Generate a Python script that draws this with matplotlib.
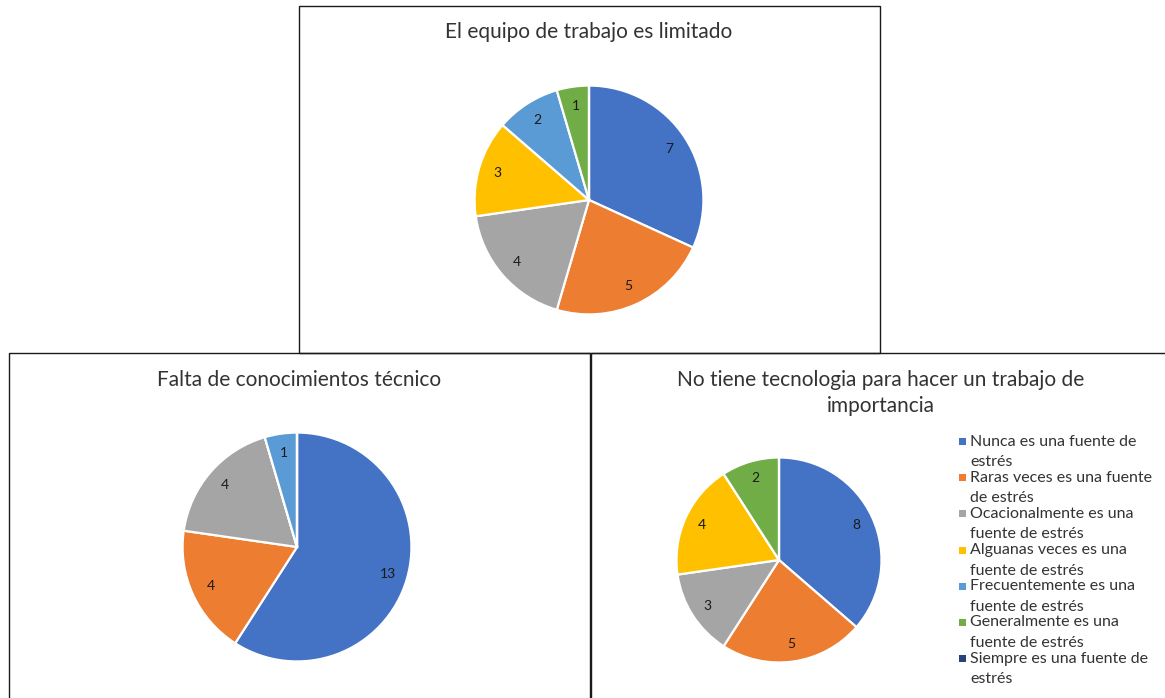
import matplotlib
matplotlib.use("Agg")
import matplotlib.pyplot as plt
from matplotlib.patches import Rectangle

plt.rcParams['font.family'] = ['Lato', 'DejaVu Sans']

categories = [
    "Nunca es una fuente de estrés",
    "Raras veces es una fuente de estrés",
    "Ocacionalmente es una fuente de estrés",
    "Alguanas veces es una fuente de estrés",
    "Frecuentemente es una fuente de estrés",
    "Generalmente es una fuente de estrés",
    "Siempre es una fuente de estrés",
]
legend_lines = [
    ("Nunca es una fuente de", "estrés"),
    ("Raras veces es una fuente", "de estrés"),
    ("Ocacionalmente es una", "fuente de estrés"),
    ("Alguanas veces es una", "fuente de estrés"),
    ("Frecuentemente es una", "fuente de estrés"),
    ("Generalmente es una", "fuente de estrés"),
    ("Siempre es una fuente de", "estrés"),
]
colors = ["#4472C4", "#ED7D31", "#A5A5A5", "#FFC000", "#5B9BD5", "#70AD47", "#264478"]

title_equipo = "El equipo de trabajo es limitado"
equipo = [7, 5, 4, 3, 2, 1, 0]

title_conoc = "Falta de conocimientos técnico"
conocimientos = [13, 4, 4, 0, 1, 0, 0]

title_tecno = "No tiene tecnologia para hacer un trabajo de\nimportancia"
tecnologia = [8, 5, 3, 4, 0, 2, 0]

W, H = 1165, 698
fig = plt.figure(figsize=(W / 100, H / 100), dpi=100)
fig.patch.set_facecolor("white")

# overlay in pixel coordinates for frames, titles and legend
bg = fig.add_axes([0, 0, 1, 1], zorder=0)
bg.set_xlim(0, W)
bg.set_ylim(H, 0)
bg.axis("off")

frame_kw = dict(fill=False, edgecolor="#1a1a1a", linewidth=1.0)
bg.add_patch(Rectangle((298.5, 5.5), 581, 347, **frame_kw))
bg.add_patch(Rectangle((8.5, 352.5), 581, 360, **frame_kw))
bg.add_patch(Rectangle((590.5, 352.5), 600, 360, **frame_kw))

title_kw = dict(ha="center", va="center", fontsize=15, color="#333333")
bg.text(589, 32, title_equipo, **title_kw)
bg.text(299, 380, title_conoc, **title_kw)
bg.text(881, 393, title_tecno, linespacing=1.38, **title_kw)


def draw_pie(cx, cy, r, values):
    ax = fig.add_axes([(cx - r) / W, 1 - (cy + r) / H, 2 * r / W, 2 * r / H], zorder=2)
    total = sum(values)
    ax.pie(
        values,
        colors=colors,
        startangle=90,
        counterclock=False,
        wedgeprops=dict(edgecolor="white", linewidth=1.6),
        autopct=lambda p: f"{round(p * total / 100)}" if p > 0 else "",
        pctdistance=0.83,
        textprops=dict(fontsize=10, color="#1a1a1a"),
    )
    ax.set_xlim(-1.005, 1.005)
    ax.set_ylim(-1.005, 1.005)
    ax.set_aspect("equal")
    ax.axis("off")


draw_pie(589, 200, 115, equipo)
draw_pie(297, 547, 115, conocimientos)
draw_pie(779, 560, 103, tecnologia)

# legend for the third chart
y0, pitch, gap = 441.5, 36.2, 20.5
for i, ((first, second), col) in enumerate(zip(legend_lines, colors)):
    y = y0 + i * pitch
    bg.add_patch(Rectangle((958.5, y - 3.5), 7, 7, facecolor=col, edgecolor="none"))
    for j, line in enumerate((first, second)):
        bg.text(970, y + j * gap, line, ha="left", va="center", fontsize=11.5,
                color="#333333")

fig.savefig("out.png", dpi=100, facecolor="white")
